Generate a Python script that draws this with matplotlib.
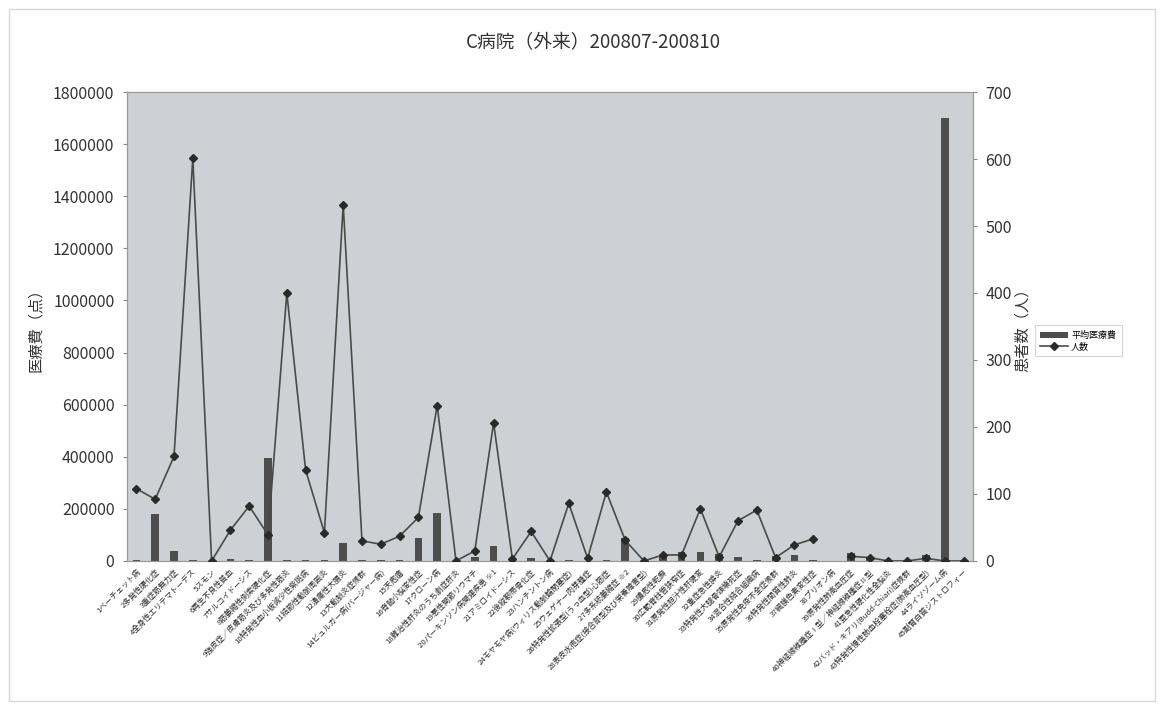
import numpy as np
import matplotlib
matplotlib.use("Agg")
import matplotlib.pyplot as plt
from matplotlib.lines import Line2D
from matplotlib.patches import Patch, Rectangle

plt.rcParams['font.family'] = ['Noto Sans CJK JP', 'DejaVu Sans']

title = "C病院（外来）200807-200810"

categories = [
    "1ベーチェット病", "2多発性硬化症", "3重症筋無力症", "4全身性エリテマトーデス", "5スモン",
    "6再生不良性貧血", "7サルコイドーシス", "8筋萎縮性側索硬化症", "9強皮症／皮膚筋炎及び多発性筋炎",
    "10特発性血小板減少性紫斑病", "11結節性動脈周囲炎", "12潰瘍性大腸炎", "13大動脈炎症候群",
    "14ビュルガー病(バージャー病)", "15天疱瘡", "16脊髄小脳変性症", "17クローン病",
    "18難治性肝炎のうち劇症肝炎", "19悪性関節リウマチ", "20パーキンソン病関連疾患 ※1",
    "21アミロイドーシス", "22後縦靭帯骨化症", "23ハンチントン病", "24モヤモヤ病(ウィリス動脈輪閉塞症)",
    "25ウェゲナー肉芽腫症", "26特発性拡張型(うっ血型)心筋症", "27多系統萎縮症 ※2",
    "28表皮水疱症(接合部型及び栄養障害型)", "29膿疱性乾癬", "30広範脊柱管狭窄症",
    "31原発性胆汁性肝硬変", "32重症急性膵炎", "33特発性大腿骨頭壊死症", "34混合性結合組織病",
    "35原発性免疫不全症候群", "36特発性間質性肺炎", "37網膜色素変性症", "38プリオン病",
    "39原発性肺高血圧症", "40神経線維腫症Ⅰ型／神経線維腫症Ⅱ型", "41亜急性硬化性全脳炎",
    "42バッド・キアリ(Budd-Chiari)症候群", "43特発性慢性肺血栓塞栓症(肺高血圧型)",
    "44ライソゾーム病", "45副腎白質ジストロフィー",
]

avg_cost = [
    5000, 180000, 38000, 3000, 0, 6000, 3000, 395000, 5000, 3000,
    3000, 70000, 3000, 3000, 3000, 90000, 183000, 0, 15000, 58000,
    1000, 10000, 0, 2000, 0, 2000, 88000, 0, 20000, 35000,
    33000, 28000, 14000, 4000, 20000, 22000, 3000, np.nan, 32000, 6000,
    0, 0, 23000, 1700000, 0,
]

patients = [
    108, 92, 156, 601, 0, 46, 82, 39, 400, 136,
    42, 532, 30, 25, 37, 65, 232, 0, 15, 206,
    3, 44, 0, 86, 4, 103, 31, 0, 9, 9,
    78, 6, 60, 76, 5, 24, 33, np.nan, 7, 5,
    0, 0, 4, 0, 0,
]

left_ticks = [0, 200000, 400000, 600000, 800000, 1000000, 1200000, 1400000, 1600000, 1800000]
right_ticks = [0, 100, 200, 300, 400, 500, 600, 700]

fig = plt.figure(figsize=(11.63, 7.10), dpi=100)
fig.patches.append(Rectangle((0.008, 0.012), 0.985, 0.976, transform=fig.transFigure,
                             fill=False, edgecolor='#d8d8d8', linewidth=1.0))

ax = fig.add_axes([0.1092, 0.2099, 0.7274, 0.6605])
ax.set_facecolor('#cdd0d4')
x = np.arange(len(categories))
ax.bar(x, avg_cost, width=0.4, color='#4d4d4d', zorder=2)
ax.set_xlim(-0.5, len(categories) - 0.5)
ax.set_ylim(0, 1800000)
ax.set_yticks(left_ticks)
ax.set_yticklabels([str(v) for v in left_ticks], fontsize=11.5, color='#333333')
ax.set_ylabel("医療費（点）", fontsize=11, color='#333333')
ax.yaxis.set_label_coords(-0.098, 0.5)
ax.set_xticks(x)
ax.set_xticklabels(categories, rotation=45, ha='right', rotation_mode='anchor',
                   fontsize=5.6, color='#2a2a2a')
ax.tick_params(axis='x', length=0, pad=5)
ax.tick_params(axis='y', length=3, color='#888888', pad=6)
for s in ax.spines.values():
    s.set_color('#999999')

ax2 = ax.twinx()
ax2.plot(x, patients, color='#4a4a4a', linewidth=1.2, marker='D', markersize=4.5,
         markerfacecolor='#2a2a2a', markeredgecolor='#2a2a2a', zorder=3)
ax2.set_ylim(0, 700)
ax2.set_yticks(right_ticks)
ax2.set_yticklabels([str(v) for v in right_ticks], fontsize=11.5, color='#333333')
ax2.set_ylabel("患者数（人）", fontsize=11, color='#333333')
ax2.yaxis.set_label_coords(1.049, 0.5)
ax2.tick_params(axis='y', length=3, color='#888888', pad=6)
for s in ax2.spines.values():
    s.set_color('#999999')

fig.text(0.51, 0.94, title, ha='center', va='center', fontsize=13.5, color='#333333')

handles = [Patch(facecolor='#4d4d4d', edgecolor='none'),
           Line2D([0], [0], color='#4a4a4a', linewidth=1.2, marker='D', markersize=4,
                  markerfacecolor='#2a2a2a', markeredgecolor='#2a2a2a')]
leg = fig.legend(handles, ["平均医療費", "人数"], loc='center left',
                 bbox_to_anchor=(0.888, 0.52), fontsize=6.5, frameon=True,
                 handlelength=3.0, handleheight=0.55, borderpad=0.35, labelspacing=0.15,
                 handletextpad=0.4)
leg.get_frame().set_edgecolor('#cccccc')
leg.get_frame().set_linewidth(0.8)
leg.get_frame().set_boxstyle('square')

fig.savefig("out.png", dpi=100)
